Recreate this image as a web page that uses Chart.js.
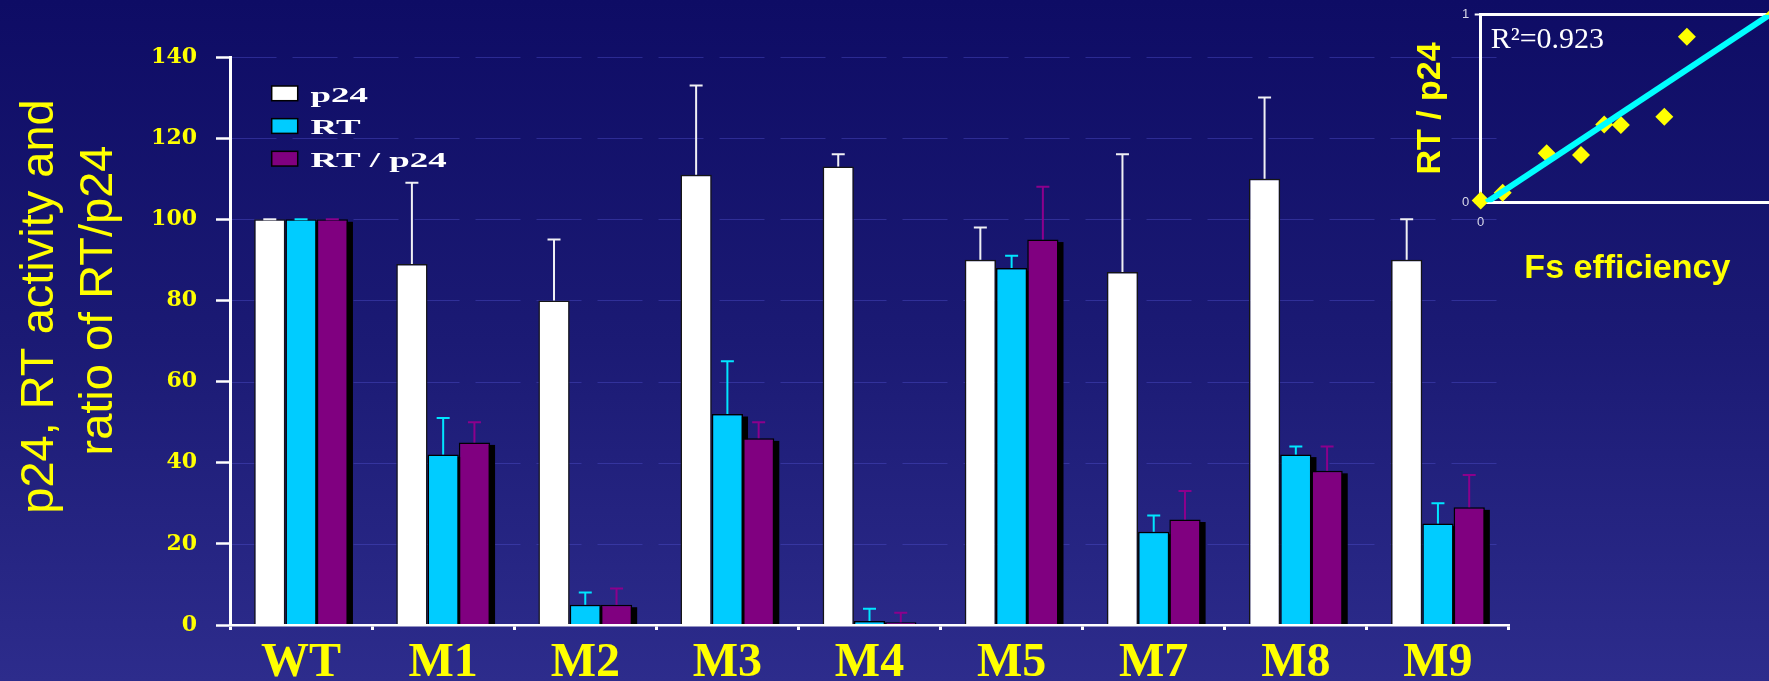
<!DOCTYPE html>
<html>
<head>
<meta charset="utf-8">
<script src="https://cdn.jsdelivr.net/npm/chart.js@4.4.1/dist/chart.umd.min.js"></script>
<style>
  html, body { margin: 0; padding: 0; }
  body {
    width: 1769px; height: 681px; overflow: hidden;
    background: linear-gradient(to bottom, #0e0c65 0%, #1b1a74 50%, #2d2c8c 100%);
  }
  #wrap { position: relative; width: 1769px; height: 681px; overflow: hidden; }
  #main { position: absolute; left: 0; top: 0; }
  #inset { position: absolute; left: 1380px; top: 0; }
</style>
</head>
<body>
<div id="wrap">
  <canvas id="main" width="1769" height="681"></canvas>
  <canvas id="inset" width="420" height="300"></canvas>
</div>
<script>
// ---- bar chart data ----
const categories = ['WT', 'M1', 'M2', 'M3', 'M4', 'M5', 'M7', 'M8', 'M9'];
const seriesNames = ['p24', 'RT', 'RT / p24'];
const p24Values = [100, 89, 80, 111, 113, 90, 87, 110, 90];
const p24Errors = [0, 20, 15, 22, 3, 8, 29, 20, 10];
const rtValues = [100, 42, 5, 52, 1, 88, 23, 42, 25];
const rtErrors = [0, 9, 3, 13, 3, 3, 4, 2, 5];
const ratioValues = [100, 45, 5, 46, 0.7, 95, 26, 38, 29];
const ratioErrors = [0, 5, 4, 4, 2.3, 13, 7, 6, 8];
const yMin = 0, yMax = 140, yStep = 20;
const yTitleLines = ['p24, RT activity and', 'ratio of RT/p24'];

// ---- correlation inset data ----
const fsEfficiency = [0, 0.075, 0.225, 0.342, 0.421, 0.478, 0.626, 0.703, 1];
const rtPerP24 = [0.01, 0.051, 0.261, 0.252, 0.415, 0.412, 0.456, 0.883, 1];
const fitX = [0.02, 1];
const fitY = [0, 1.015];
const r2Label = 'R\u00B2=0.923';
const insetXTitle = 'Fs efficiency';
const insetYTitle = 'RT / p24';

const gridDash = [45, 16];

// black drop shadow behind the RT and RT/p24 bars
const barShadow = {
  id: 'barShadow',
  beforeDatasetsDraw(chart) {
    const ctx = chart.ctx, a = chart.chartArea;
    ctx.save();
    ctx.beginPath();
    ctx.rect(a.left, a.top - 10, a.right - a.left + 10, a.bottom - a.top + 10);
    ctx.clip();
    ctx.fillStyle = '#000';
    chart.data.datasets.forEach((ds, i) => {
      if (!ds.shadow) return;
      chart.getDatasetMeta(i).data.forEach(bar => {
        const p = bar.getProps(['x', 'y', 'width', 'base'], true);
        const h = p.base - p.y - 2.5;
        if (h > 0) ctx.fillRect(p.x - p.width / 2 + 5, p.y + 2.5, p.width, h);
      });
    });
    ctx.restore();
  }
};

// upward error bars with caps
const errorBars = {
  id: 'errorBars',
  afterDatasetsDraw(chart) {
    const ctx = chart.ctx, yScale = chart.scales.y;
    chart.data.datasets.forEach((ds, i) => {
      ctx.save();
      ctx.strokeStyle = ds.errorColor;
      ctx.lineWidth = 2;
      chart.getDatasetMeta(i).data.forEach((bar, j) => {
        const top = yScale.getPixelForValue(ds.data[j] + ds.errors[j]);
        ctx.beginPath();
        ctx.moveTo(bar.x, bar.y);
        ctx.lineTo(bar.x, top);
        ctx.moveTo(bar.x - 6.5, top);
        ctx.lineTo(bar.x + 6.5, top);
        ctx.stroke();
      });
      ctx.restore();
    });
  }
};

// dashed horizontal grid lines across the plot
const dashedGrid = {
  id: 'dashedGrid',
  beforeDatasetsDraw(chart) {
    const ctx = chart.ctx, a = chart.chartArea, yScale = chart.scales.y;
    ctx.save();
    ctx.strokeStyle = 'rgba(78, 78, 200, 0.45)';
    ctx.lineWidth = 1;
    ctx.setLineDash(gridDash);
    yScale.ticks.forEach(t => {
      if (t.value === yMin) return;
      const py = Math.round(yScale.getPixelForValue(t.value)) + 0.5;
      ctx.beginPath();
      ctx.moveTo(a.left + 1.5, py);
      ctx.lineTo(a.right, py);
      ctx.stroke();
    });
    ctx.restore();
  }
};

// two-line rotated value-axis title
const yAxisTitle = {
  id: 'yAxisTitle',
  afterDraw(chart) {
    const ctx = chart.ctx;
    const spots = [[53.3, 306.5], [111.7, 300.5]];
    ctx.save();
    ctx.fillStyle = '#ffff00';
    ctx.font = '47px "Liberation Sans", Arial, sans-serif';
    ctx.textAlign = 'center';
    ctx.textBaseline = 'alphabetic';
    yTitleLines.forEach((line, i) => {
      ctx.save();
      ctx.translate(spots[i][0], spots[i][1]);
      ctx.rotate(-Math.PI / 2);
      ctx.fillText(line, 0, 0);
      ctx.restore();
    });
    ctx.restore();
  }
};

// stacked legend in the upper-left of the plot
const boxLegend = {
  id: 'boxLegend',
  afterDraw(chart) {
    const ctx = chart.ctx;
    chart.data.datasets.forEach((ds, i) => {
      const top = 86 + i * 32.67;
      ctx.save();
      ctx.fillStyle = ds.backgroundColor;
      ctx.fillRect(271.7, top, 26, 14.7);
      ctx.strokeStyle = '#000';
      ctx.lineWidth = 1.5;
      ctx.strokeRect(271.7, top, 26, 14.7);
      ctx.translate(310.5, top + 15.7);
      ctx.scale(1.76, 1);
      ctx.font = 'bold 21px "Liberation Serif", "Times New Roman", serif';
      ctx.fillStyle = '#ffffff';
      ctx.textBaseline = 'alphabetic';
      ctx.fillText(ds.label, 0, 0);
      ctx.restore();
    });
  }
};

new Chart(document.getElementById('main'), {
  type: 'bar',
  data: {
    labels: categories,
    datasets: [
      { label: seriesNames[0], data: p24Values, errors: p24Errors, backgroundColor: '#ffffff',
        borderColor: '#151515', borderWidth: 1.5, errorColor: '#f0f0f4', shadow: false },
      { label: seriesNames[1], data: rtValues, errors: rtErrors, backgroundColor: '#00ccff',
        borderColor: '#000000', borderWidth: 1.5, errorColor: '#00e6ff', shadow: true },
      { label: seriesNames[2], data: ratioValues, errors: ratioErrors, backgroundColor: '#800080',
        borderColor: '#000000', borderWidth: 1.5, errorColor: '#8c008c', shadow: true }
    ]
  },
  options: {
    responsive: false,
    animation: false,
    devicePixelRatio: 1,
    layout: { padding: { top: 57, right: 260, bottom: 0, left: 0 } },
    datasets: { bar: { categoryPercentage: 0.66, barPercentage: 1.0 } },
    plugins: { legend: { display: false }, tooltip: { enabled: false } },
    scales: {
      x: {
        grid: { offset: true, drawOnChartArea: false, tickLength: 5, tickColor: '#ffffff', tickWidth: 3 },
        border: { color: '#ffffff', width: 2.5, z: 1 },
        ticks: {
          color: '#ffff00', padding: 5, maxRotation: 0, autoSkip: false,
          font: { family: '"Liberation Serif", "Times New Roman", serif', size: 48, weight: 'bold' }
        },
        afterFit(s) { s.height = 56; }
      },
      y: {
        min: yMin, max: yMax,
        ticks: {
          stepSize: yStep, color: '#ffff00', padding: 19,
          font: { family: '"DejaVu Serif", serif', size: 22, weight: 'bold' }
        },
        grid: { drawOnChartArea: false, tickColor: '#ffffff', tickWidth: 2.5, tickLength: 14 },
        border: { color: '#ffffff', width: 3, z: 1 },
        afterFit(s) { s.width = 230; }
      }
    }
  },
  plugins: [dashedGrid, barShadow, errorBars, yAxisTitle, boxLegend]
});

// R-squared note inside the inset plot
const r2Note = {
  id: 'r2Note',
  afterDraw(chart) {
    const ctx = chart.ctx, a = chart.chartArea;
    ctx.save();
    ctx.font = '30px "Liberation Serif", "Times New Roman", serif';
    ctx.fillStyle = '#ffffff';
    ctx.textBaseline = 'alphabetic';
    ctx.fillText(r2Label, a.left + 10, a.top + 33.6);
    ctx.restore();
  }
};

const smallTickFont = { family: '"Liberation Sans", Arial, sans-serif', size: 13 };
const insetTitleFont = { family: '"Liberation Sans", Arial, sans-serif', size: 34, weight: 'bold' };

new Chart(document.getElementById('inset'), {
  type: 'scatter',
  data: {
    datasets: [
      { type: 'line', data: fitX.map((x, i) => ({ x, y: fitY[i] })), borderColor: '#00ffff',
        borderWidth: 6, pointRadius: 0, fill: false },
      { type: 'scatter', data: fsEfficiency.map((x, i) => ({ x, y: rtPerP24[i] })), pointStyle: 'rectRot',
        pointRadius: 9, backgroundColor: '#ffff00', borderWidth: 0, clip: false }
    ]
  },
  options: {
    responsive: false,
    animation: false,
    devicePixelRatio: 1,
    layout: { padding: { top: 14.7, right: 26, bottom: 0, left: 0 } },
    plugins: { legend: { display: false }, tooltip: { enabled: false } },
    scales: {
      x: {
        type: 'linear', min: 0, max: 1,
        grid: { display: false, drawTicks: false },
        border: { color: '#ffffff', width: 3 },
        ticks: { stepSize: 1, color: '#d8d8e8', font: smallTickFont, padding: 12.4,
                 callback: v => (v === 0 ? '0' : null) },
        title: { display: true, text: insetXTitle, color: '#ffff00', font: insetTitleFont,
                 padding: { top: 0, bottom: 11.4 } },
        afterFit(s) { s.height = 97.7; }
      },
      y: {
        min: 0, max: 1,
        grid: { color: '#ffffff', lineWidth: 3, tickLength: 6, tickColor: '#ffffff', tickWidth: 2 },
        border: { color: '#ffffff', width: 3 },
        ticks: { stepSize: 1, color: '#d8d8e8', font: smallTickFont, padding: 5.4 },
        title: { display: true, text: insetYTitle, color: '#ffff00', font: insetTitleFont,
                 padding: { top: 30.2, bottom: 0 } },
        afterFit(s) { s.width = 100.7; }
      }
    }
  },
  plugins: [r2Note]
});
</script>
</body>
</html>
